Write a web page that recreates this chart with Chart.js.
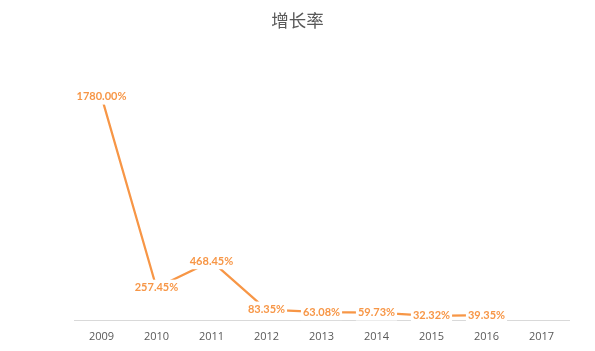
<!DOCTYPE html>
<html>
<head>
<meta charset="utf-8">
<script src="https://cdn.jsdelivr.net/npm/chart.js@4"></script>
<style>
  html, body { margin: 0; padding: 0; background: #fff; }
  #wrap { width: 595px; height: 351px; }
</style>
</head>
<body>
<div id="wrap"><canvas id="chart1"></canvas></div>
<script>
        // Data
        const years = ['2009', '2010', '2011', '2012', '2013', '2014', '2015', '2016', '2017'];
        const growthRate = [1780.00, 257.45, 468.45, 83.35, 63.08, 59.73, 32.32, 39.35, null];
        const chartTitle = '增长率';

        const orange = '#F79646';
        const grey = '#595959';

        // Value labels with a white box (Excel style) and the title centred on the page
        const pointLabels = {
            id: 'pointLabels',
            afterDraw(chart) {
                const ctx = chart.ctx;
                const meta = chart.getDatasetMeta(0);
                ctx.save();
                ctx.font = 'bold 11px Lato, "Liberation Sans", sans-serif';
                ctx.textAlign = 'center';
                ctx.textBaseline = 'middle';
                meta.data.forEach((pt, i) => {
                    const v = growthRate[i];
                    if (v === null) return;
                    const text = v.toFixed(2) + '%';
                    const w = ctx.measureText(text).width;
                    ctx.fillStyle = '#fff';
                    ctx.fillRect(pt.x - w / 2 - 2, pt.y - 8, w + 4, 16);
                    ctx.fillStyle = orange;
                    ctx.fillText(text, pt.x, pt.y);
                });
                // title
                ctx.font = '17.5px "Noto Sans CJK SC", sans-serif';
                ctx.fillStyle = grey;
                ctx.fillText(chartTitle, chart.width / 2, 20);
                ctx.restore();
            }
        };

        const ctx = document.getElementById('chart1').getContext('2d');
        const chart = new Chart(ctx, {
            type: 'line',
            data: {
                labels: years,
                datasets: [{
                    data: growthRate,
                    borderColor: orange,
                    borderWidth: 2.25,
                    pointRadius: 0,
                    fill: false,
                    tension: 0
                }]
            },
            options: {
                responsive: true,
                maintainAspectRatio: false,
                animation: false,
                layout: { padding: { left: 74, right: 26, top: 69, bottom: 0 } },
                plugins: {
                    legend: { display: false },
                    tooltip: { enabled: false },
                    title: { display: false }
                },
                scales: {
                    x: {
                        offset: true,
                        grid: { display: false, drawTicks: false },
                        border: { display: true, color: '#D9D9D9', width: 1 },
                        ticks: {
                            color: grey,
                            padding: 10,
                            font: { family: '"Open Sans", sans-serif', size: 11, lineHeight: 1.2 }
                        },
                        afterFit(scale) { scale.height = 31; }
                    },
                    y: {
                        display: false,
                        min: 0,
                        max: 2000
                    }
                }
            },
            plugins: [pointLabels]
        });
</script>
</body>
</html>
